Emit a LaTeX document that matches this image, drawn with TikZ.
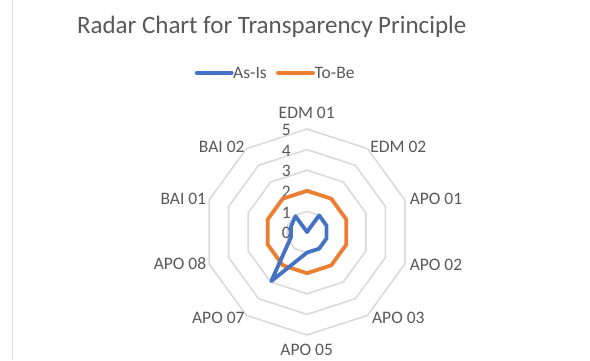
\documentclass[tikz,border=0pt]{standalone}
\usepackage{fontspec}
\setmainfont{Carlito}
\definecolor{txt}{HTML}{595959}
\definecolor{gridc}{HTML}{D9D9D9}
\definecolor{asis}{HTML}{4472C4}
\definecolor{tobe}{HTML}{ED7D31}
\begin{document}
\begin{tikzpicture}[x=1pt,y=-1pt,
  lbl/.style={text=txt,font=\fontsize{17.5}{19}\selectfont,inner sep=0pt},
  ring/.style={draw=gridc,line width=1.5pt,line join=miter},
  series/.style={line width=3.8pt,line join=round,line cap=round}]
\useasboundingbox (0,0) rectangle (590,360);
\fill[white] (0,0) rectangle (590,360);
\draw[gridc,line width=1pt] (12,0) -- (12,360);
% title
\node[text=txt,font=\fontsize{25}{29}\selectfont,inner sep=0pt] (title) at (271.7,27) {Radar Chart for Transparency Principle};
% legend
\coordinate (lb1) at (196.7,72.7);
\coordinate (lb2) at (231.7,72.7);
\coordinate (lo1) at (278,72.7);
\coordinate (lo2) at (313,72.7);
\draw[asis,series] (lb1) -- (lb2);
\draw[tobe,series] (lo1) -- (lo2);
\node[lbl,anchor=west] (lgA) at (233,72.7) {As-Is};
\node[lbl,anchor=west] (lgB) at (314.5,72.7) {To-Be};
% rings
\foreach \k in {1,...,5}{
  \draw[ring] ({307+20.6*\k*cos(90)},{232-20.6*\k*sin(90)})
    \foreach \i in {1,...,9}{ -- ({307+20.6*\k*cos(90-36*\i)},{232-20.6*\k*sin(90-36*\i)}) } -- cycle;
}
% axis numbers
\foreach \k in {0,...,5}{
  \node[lbl,anchor=east] (n\k) at (291,{232-20.6*\k+1}) {\k};
}
% category labels
\node[lbl] (c0) at (306.7,113) {EDM 01};
\node[lbl] (c1) at (398.3,146.7) {EDM 02};
\node[lbl] (c2) at (436,199) {APO 01};
\node[lbl] (c3) at (436,265) {APO 02};
\node[lbl] (c4) at (398.3,318.3) {APO 03};
\node[lbl] (c5) at (306.7,350) {APO 05};
\node[lbl] (c6) at (218.3,318.3) {APO 07};
\node[lbl] (c7) at (180,264) {APO 08};
\node[lbl] (c8) at (183.3,199) {BAI 01};
\node[lbl] (c9) at (221.7,146.7) {BAI 02};
% series points
\foreach \v [count=\i from 0] in {2,2,2,2,2,2,2,2,2,2}
  \coordinate (t\i) at ({307+20.6*\v*cos(90-36*\i)},{232-20.6*\v*sin(90-36*\i)});
\foreach \v [count=\i from 0] in {0,1,1,1,1,1,2.95,0.82,0.82,0.95}
  \coordinate (a\i) at ({307+20.6*\v*cos(90-36*\i)},{232-20.6*\v*sin(90-36*\i)});
\draw[tobe,series] (t0) -- (t1) -- (t2) -- (t3) -- (t4) -- (t5) -- (t6) -- (t7) -- (t8) -- (t9) -- cycle;
\draw[asis,series] (a0) -- (a1) -- (a2) -- (a3) -- (a4) -- (a5) -- (a6) -- (a7) -- (a8) -- (a9) -- cycle;
\end{tikzpicture}
\end{document}
